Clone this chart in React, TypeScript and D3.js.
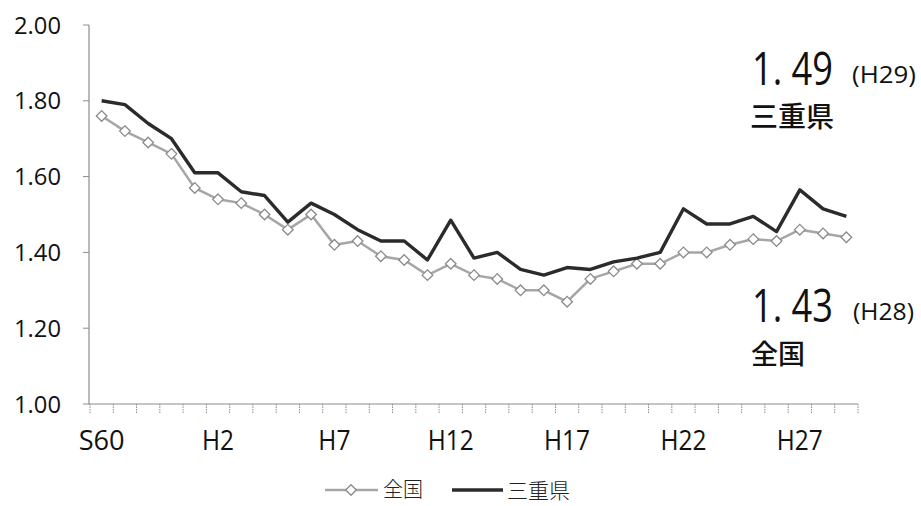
import * as d3 from 'd3';

// 合計特殊出生率の推移（全国・三重県）
const YEARS = [
  'S60', 'S61', 'S62', 'S63',
  'H1', 'H2', 'H3', 'H4', 'H5', 'H6', 'H7', 'H8', 'H9', 'H10',
  'H11', 'H12', 'H13', 'H14', 'H15', 'H16', 'H17', 'H18', 'H19', 'H20',
  'H21', 'H22', 'H23', 'H24', 'H25', 'H26', 'H27', 'H28', 'H29',
];
const X_TICK_LABELS = ['S60', 'H2', 'H7', 'H12', 'H17', 'H22', 'H27'];
const Y_TICKS = [1.0, 1.2, 1.4, 1.6, 1.8, 2.0];

const NATIONAL = [
  1.76, 1.72, 1.69, 1.66, 1.57, 1.54, 1.53, 1.5, 1.46, 1.5, 1.42, 1.43, 1.39, 1.38,
  1.34, 1.37, 1.34, 1.33, 1.3, 1.3, 1.27, 1.33, 1.35, 1.37, 1.37, 1.4, 1.4, 1.42,
  1.435, 1.43, 1.46, 1.45, 1.44,
];
const MIE = [
  1.8, 1.79, 1.74, 1.7, 1.61, 1.61, 1.56, 1.55, 1.48, 1.53, 1.5, 1.46, 1.43, 1.43,
  1.38, 1.485, 1.385, 1.4, 1.355, 1.34, 1.36, 1.355, 1.375, 1.385, 1.4, 1.515, 1.475,
  1.475, 1.495, 1.455, 1.565, 1.515, 1.495,
];

const WIDTH = 921;
const HEIGHT = 506;
const PLOT = { left: 90, right: 858, top: 25, bottom: 404 };

const LATIN = '"Open Sans", "DejaVu Sans", sans-serif';
const CJK = '"Noto Sans CJK JP", "Noto Sans", sans-serif';

const NATIONAL_COLOR = '#a6a6a6';
const MIE_COLOR = '#2b2b2b';
const AXIS_COLOR = '#8c8c8c';

export default function App() {
  const x = d3.scaleBand<string>().domain(YEARS).range([PLOT.left, PLOT.right]);
  const y = d3.scaleLinear().domain([1, 2]).range([PLOT.bottom, PLOT.top]);
  const cx = (year: string) => (x(year) ?? 0) + x.bandwidth() / 2;

  const line = d3
    .line<number>()
    .x((_, i) => cx(YEARS[i]))
    .y((v) => y(v));

  const diamond = d3.symbol().type(d3.symbolDiamond2).size(72)();

  // tick marks on band boundaries
  const boundaries = YEARS.map((yr) => x(yr) ?? 0).concat([PLOT.right]);

  return (
    <svg
      width={WIDTH}
      height={HEIGHT}
      viewBox={`0 0 ${WIDTH} ${HEIGHT}`}
      style={{ position: 'absolute', left: 0, top: 0, background: '#fff' }}
    >
      {/* ---- Y axis ---- */}
      <line
        x1={PLOT.left - 1}
        x2={PLOT.left - 1}
        y1={y(2)}
        y2={y(1)}
        stroke={AXIS_COLOR}
        strokeWidth={1.2}
      />
      {Y_TICKS.map((t) => (
        <g key={t} transform={`translate(0, ${y(t)})`}>
          <line x1={PLOT.left - 7} x2={PLOT.left - 1} stroke={AXIS_COLOR} strokeWidth={1} />
          <text
            x={61}
            dy="0.36em"
            textAnchor="end"
            fontFamily={LATIN}
            fontSize={24}
            fill="#111"
            textLength={47}
            lengthAdjust="spacingAndGlyphs"
          >
            {d3.format('.2f')(t)}
          </text>
        </g>
      ))}

      {/* ---- X axis ---- */}
      <line
        x1={PLOT.left - 1}
        x2={PLOT.right}
        y1={y(1)}
        y2={y(1)}
        stroke={AXIS_COLOR}
        strokeWidth={1.2}
      />
      {boundaries.map((bx, i) => (
        <line
          key={i}
          x1={bx}
          x2={bx}
          y1={y(1)}
          y2={y(1) + 9}
          stroke={AXIS_COLOR}
          strokeWidth={1}
          strokeDasharray="1.5 1"
        />
      ))}
      {X_TICK_LABELS.map((lbl) => (
        <text
          key={lbl}
          x={cx(lbl)}
          y={450}
          textAnchor="middle"
          fontFamily={LATIN}
          fontSize={28}
          fill="#111"
          textLength={lbl.length === 2 ? 32 : 46}
          lengthAdjust="spacingAndGlyphs"
        >
          {lbl}
        </text>
      ))}

      {/* ---- Lines ---- */}
      <path d={line(NATIONAL) ?? ''} fill="none" stroke={NATIONAL_COLOR} strokeWidth={2.5} />
      {NATIONAL.map((v, i) => (
        <path
          key={i}
          d={diamond ?? ''}
          transform={`translate(${cx(YEARS[i])}, ${y(v)})`}
          fill="#fff"
          stroke="#8a8a8a"
          strokeWidth={1.3}
        />
      ))}
      <path
        d={line(MIE) ?? ''}
        fill="none"
        stroke={MIE_COLOR}
        strokeWidth={3.4}
        strokeLinejoin="round"
      />

      {/* ---- Annotations ---- */}
      <text
        x={752}
        y={85}
        fontFamily={LATIN}
        fontSize={46}
        fill="#111"
        textLength={81}
        lengthAdjust="spacingAndGlyphs"
      >
        1. 49
      </text>
      <text
        x={852}
        y={83}
        fontFamily={LATIN}
        fontSize={24}
        fill="#111"
        textLength={64}
        lengthAdjust="spacingAndGlyphs"
      >
        (H29)
      </text>
      <text x={750} y={127} fontFamily={CJK} fontSize={28} fontWeight={500} fill="#111">
        三重県
      </text>

      <text
        x={752}
        y={322}
        fontFamily={LATIN}
        fontSize={46}
        fill="#111"
        textLength={81}
        lengthAdjust="spacingAndGlyphs"
      >
        1. 43
      </text>
      <text
        x={853}
        y={320}
        fontFamily={LATIN}
        fontSize={24}
        fill="#111"
        textLength={61}
        lengthAdjust="spacingAndGlyphs"
      >
        (H28)
      </text>
      <text x={751} y={364} fontFamily={CJK} fontSize={27} fontWeight={500} fill="#111">
        全国
      </text>

      {/* ---- Legend ---- */}
      <g transform="translate(0, 490)">
        <line x1={325} x2={378} stroke={NATIONAL_COLOR} strokeWidth={2.5} />
        <path
          d={diamond ?? ''}
          transform="translate(351, 0)"
          fill="#fff"
          stroke="#8a8a8a"
          strokeWidth={1.3}
        />
        <text x={383} dy="0.36em" fontFamily={CJK} fontSize={20} fontWeight={300} fill="#222">
          全国
        </text>
        <line x1={452} x2={503} stroke={MIE_COLOR} strokeWidth={3.4} />
        <text x={507} dy="0.36em" fontFamily={CJK} fontSize={21} fontWeight={300} fill="#222">
          三重県
        </text>
      </g>
    </svg>
  );
}
